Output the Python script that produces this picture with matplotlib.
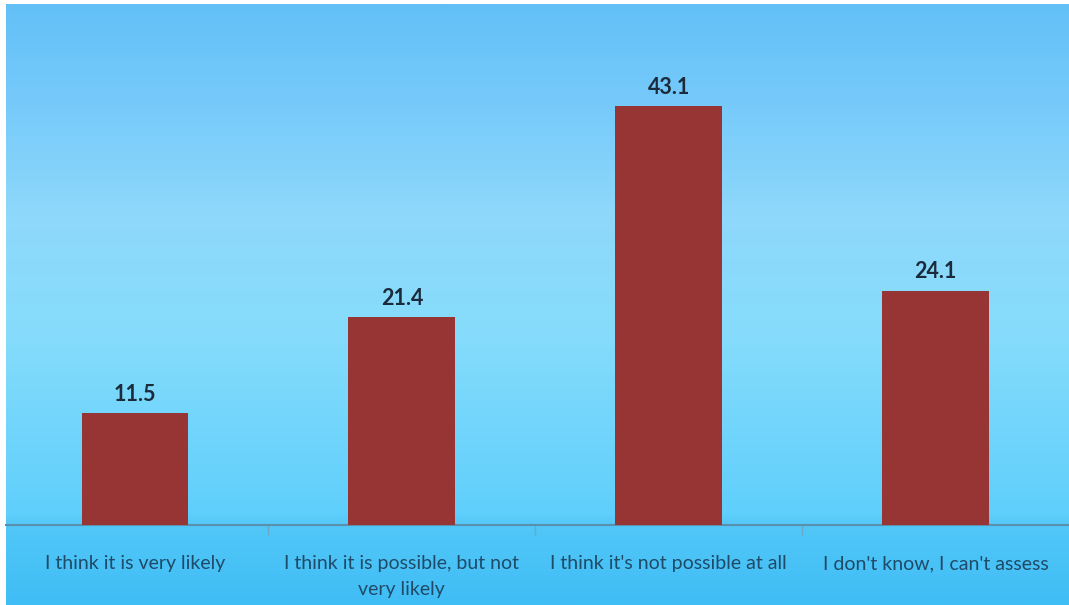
import numpy as np
import matplotlib.pyplot as plt
from matplotlib.colors import LinearSegmentedColormap

# Survey answers and their shares (%)
categories = ["I think it is very likely",
              "I think it is possible, but not\nvery likely",
              "I think it's not possible at all",
              "I don't know, I can't assess"]
values = [11.5, 21.4, 43.1, 24.1]

W, H = 1069, 605
fig = plt.figure(figsize=(W / 100, H / 100), dpi=100)
fig.patch.set_facecolor("white")

# Blue vertical gradient behind everything
bg = fig.add_axes([6 / W, 0, (W - 6) / W, (H - 4) / H])
stops = [(0.0, "#3fbdf5"), (0.13, "#52c7f8"), (0.15, "#5fcffb"),
         (0.45, "#86dcfc"), (0.65, "#8ed8fb"), (0.85, "#74c9fa"), (1.0, "#63c0f7")]
cmap = LinearSegmentedColormap.from_list("sky", stops)
grad = np.linspace(0, 1, 256).reshape(-1, 1)
bg.imshow(grad, cmap=cmap, aspect="auto", origin="lower", extent=[0, 1, 0, 1])
bg.set_axis_off()

# Bar chart
ax = fig.add_axes([6 / W, 80 / H, (W - 6) / W, 521 / H])
ax.patch.set_alpha(0)
x = np.arange(len(values))
bars = ax.bar(x, values, width=0.4, color="#963533", zorder=3)
for xi, v in zip(x, values):
    ax.annotate(f"{v}", (xi, v), xytext=(0, 6), textcoords="offset points",
                ha="center", va="bottom", fontsize=15.5, fontweight="bold",
                color="#1c2b3c", family="Lato")

ax.set_xlim(-0.5 + 4.5 / 267, 3.5)
ax.set_ylim(0, 53.6)
for s in ["top", "right", "left"]:
    ax.spines[s].set_visible(False)
ax.spines["bottom"].set_color("#5b8fae")
ax.spines["bottom"].set_linewidth(1.5)
ax.set_yticks([])
ax.set_xticks([0.5, 1.5, 2.5])
ax.set_xticklabels([])
ax.tick_params(axis="x", length=7, color="#6aa6c8", width=1)

for xi, lab in zip(x, categories):
    ax.text(xi, -3.1, lab, ha="center", va="top", fontsize=14,
            color="#1f4a68", family="Lato", linespacing=1.65)

fig.savefig("out.png", dpi=100)
